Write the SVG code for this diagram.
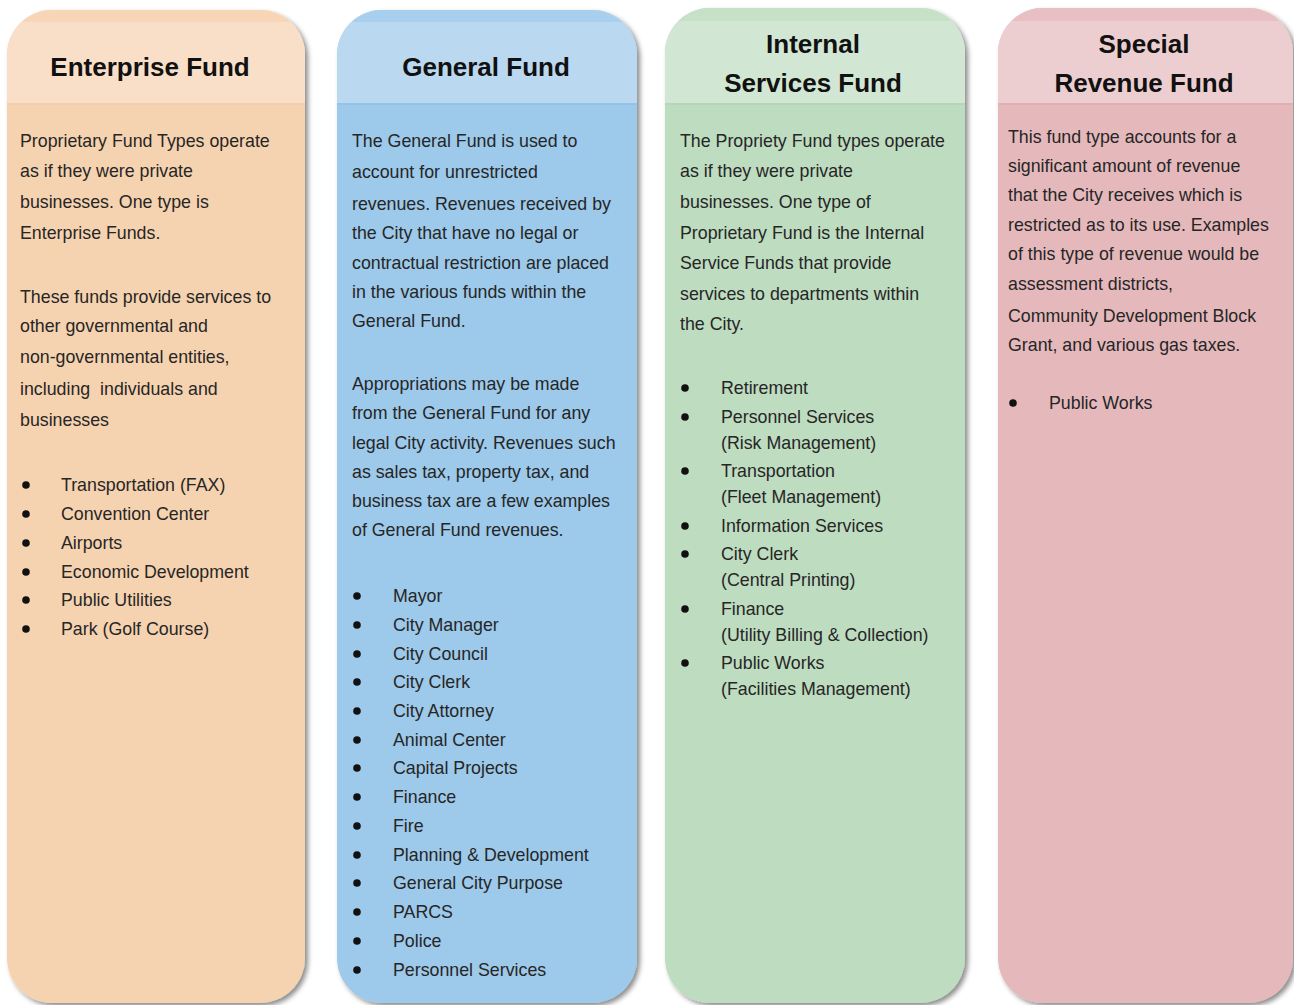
<svg xmlns="http://www.w3.org/2000/svg" xmlns:xlink="http://www.w3.org/1999/xlink" width="1294" height="1005" viewBox="0 0 1294 1005">
<style>
.t{font-family:"Liberation Sans",Arial,sans-serif;font-size:17.8px;fill:#262626}
.h{font-family:"Liberation Sans",Arial,sans-serif;font-size:26px;font-weight:bold;fill:#111;text-anchor:middle}
.b{fill:#111}
</style>
<defs>
<filter id="sh" x="-5%" y="-5%" width="115%" height="115%">
<feDropShadow dx="3" dy="3" stdDeviation="2.5" flood-color="#000" flood-opacity="0.45"/>
</filter>
<clipPath id="c1"><rect x="7" y="10" width="298" height="993" rx="45"/></clipPath>
<clipPath id="c2"><rect x="337" y="10" width="300" height="993" rx="45"/></clipPath>
<clipPath id="c3"><rect x="665" y="8" width="300" height="995" rx="45"/></clipPath>
<clipPath id="c4"><rect x="998" y="8" width="295" height="995" rx="45"/></clipPath>
</defs>
<rect width="1294" height="1005" fill="#fff"/>

<g id="enterprise-fund">
<rect x="7" y="10" width="298" height="993" rx="45" fill="#F6D3B0" filter="url(#sh)"/>
<g clip-path="url(#c1)">
<rect x="7" y="10" width="298" height="94" fill="#F9DFC8"/>
<rect x="7" y="10" width="298" height="12" fill="#F7D6B8"/>
<rect x="7" y="103" width="298" height="2" fill="#F1CDAB"/>
</g>
<text class="h" x="150" y="76">Enterprise Fund</text>
<text class="t" x="20" y="147">Proprietary Fund Types operate</text>
<text class="t" x="20" y="177">as if they were private</text>
<text class="t" x="20" y="208">businesses. One type is</text>
<text class="t" x="20" y="239">Enterprise Funds.</text>
<text class="t" x="20" y="303">These funds provide services to</text>
<text class="t" x="20" y="332">other governmental and</text>
<text class="t" x="20" y="363">non-governmental entities,</text>
<text class="t" x="20" y="395" xml:space="preserve">including  individuals and</text>
<text class="t" x="20" y="426">businesses</text>
<g class="b">
<circle cx="26" cy="485" r="3.8"/><circle cx="26" cy="514" r="3.8"/><circle cx="26" cy="543" r="3.8"/>
<circle cx="26" cy="572" r="3.8"/><circle cx="26" cy="600" r="3.8"/><circle cx="26" cy="629" r="3.8"/>
</g>
<text class="t" x="61" y="491">Transportation (FAX)</text>
<text class="t" x="61" y="520">Convention Center</text>
<text class="t" x="61" y="549">Airports</text>
<text class="t" x="61" y="578">Economic Development</text>
<text class="t" x="61" y="606">Public Utilities</text>
<text class="t" x="61" y="635">Park (Golf Course)</text>
</g>

<g id="general-fund">
<rect x="337" y="10" width="300" height="993" rx="45" fill="#9DC9EA" filter="url(#sh)"/>
<g clip-path="url(#c2)">
<rect x="337" y="10" width="300" height="94" fill="#BAD8F0"/>
<rect x="337" y="10" width="300" height="12" fill="#A8D0EE"/>
<rect x="337" y="103" width="300" height="2" fill="#93C3E6"/>
</g>
<text class="h" x="486" y="76">General Fund</text>
<text class="t" x="352" y="147">The General Fund is used to</text>
<text class="t" x="352" y="178">account for unrestricted</text>
<text class="t" x="352" y="210">revenues. Revenues received by</text>
<text class="t" x="352" y="239">the City that have no legal or</text>
<text class="t" x="352" y="269">contractual restriction are placed</text>
<text class="t" x="352" y="298">in the various funds within the</text>
<text class="t" x="352" y="327">General Fund.</text>
<text class="t" x="352" y="390">Appropriations may be made</text>
<text class="t" x="352" y="419">from the General Fund for any</text>
<text class="t" x="352" y="449">legal City activity. Revenues such</text>
<text class="t" x="352" y="478">as sales tax, property tax, and</text>
<text class="t" x="352" y="507">business tax are a few examples</text>
<text class="t" x="352" y="536">of General Fund revenues.</text>
<g class="b">
<circle cx="357" cy="596" r="3.8"/><circle cx="357" cy="625" r="3.8"/><circle cx="357" cy="654" r="3.8"/>
<circle cx="357" cy="682" r="3.8"/><circle cx="357" cy="711" r="3.8"/><circle cx="357" cy="740" r="3.8"/>
<circle cx="357" cy="768" r="3.8"/><circle cx="357" cy="797" r="3.8"/><circle cx="357" cy="826" r="3.8"/>
<circle cx="357" cy="855" r="3.8"/><circle cx="357" cy="883" r="3.8"/><circle cx="357" cy="912" r="3.8"/>
<circle cx="357" cy="941" r="3.8"/><circle cx="357" cy="970" r="3.8"/>
</g>
<text class="t" x="393" y="602">Mayor</text>
<text class="t" x="393" y="631">City Manager</text>
<text class="t" x="393" y="660">City Council</text>
<text class="t" x="393" y="688">City Clerk</text>
<text class="t" x="393" y="717">City Attorney</text>
<text class="t" x="393" y="746">Animal Center</text>
<text class="t" x="393" y="774">Capital Projects</text>
<text class="t" x="393" y="803">Finance</text>
<text class="t" x="393" y="832">Fire</text>
<text class="t" x="393" y="861">Planning &amp; Development</text>
<text class="t" x="393" y="889">General City Purpose</text>
<text class="t" x="393" y="918">PARCS</text>
<text class="t" x="393" y="947">Police</text>
<text class="t" x="393" y="976">Personnel Services</text>
</g>

<g id="internal-services-fund">
<rect x="665" y="8" width="300" height="995" rx="45" fill="#BEDCC0" filter="url(#sh)"/>
<g clip-path="url(#c3)">
<rect x="665" y="8" width="300" height="96" fill="#D2E7D3"/>
<rect x="665" y="8" width="300" height="13" fill="#C6E1C8"/>
<rect x="665" y="103" width="300" height="2" fill="#B6D6B8"/>
</g>
<text class="h" x="813" y="53">Internal</text>
<text class="h" x="813" y="92">Services Fund</text>
<text class="t" x="680" y="147">The Propriety Fund types operate</text>
<text class="t" x="680" y="177">as if they were private</text>
<text class="t" x="680" y="208">businesses. One type of</text>
<text class="t" x="680" y="239">Proprietary Fund is the Internal</text>
<text class="t" x="680" y="269">Service Funds that provide</text>
<text class="t" x="680" y="300">services to departments within</text>
<text class="t" x="680" y="330">the City.</text>
<g class="b">
<circle cx="685" cy="388" r="3.8"/><circle cx="685" cy="417" r="3.8"/><circle cx="685" cy="471" r="3.8"/>
<circle cx="685" cy="526" r="3.8"/><circle cx="685" cy="554" r="3.8"/><circle cx="685" cy="609" r="3.8"/>
<circle cx="685" cy="663" r="3.8"/>
</g>
<text class="t" x="721" y="394">Retirement</text>
<text class="t" x="721" y="423">Personnel Services</text>
<text class="t" x="721" y="449">(Risk Management)</text>
<text class="t" x="721" y="477">Transportation</text>
<text class="t" x="721" y="503">(Fleet Management)</text>
<text class="t" x="721" y="532">Information Services</text>
<text class="t" x="721" y="560">City Clerk</text>
<text class="t" x="721" y="586">(Central Printing)</text>
<text class="t" x="721" y="615">Finance</text>
<text class="t" x="721" y="641">(Utility Billing &amp; Collection)</text>
<text class="t" x="721" y="669">Public Works</text>
<text class="t" x="721" y="695">(Facilities Management)</text>
</g>

<g id="special-revenue-fund">
<rect x="998" y="8" width="295" height="995" rx="45" fill="#E5B9BC" filter="url(#sh)"/>
<g clip-path="url(#c4)">
<rect x="998" y="8" width="295" height="96" fill="#EDCED0"/>
<rect x="998" y="8" width="295" height="13" fill="#E8C0C3"/>
<rect x="998" y="103" width="295" height="2" fill="#DEB0B3"/>
</g>
<text class="h" x="1144" y="53">Special</text>
<text class="h" x="1144" y="92">Revenue Fund</text>
<text class="t" x="1008" y="143">This fund type accounts for a</text>
<text class="t" x="1008" y="172">significant amount of revenue</text>
<text class="t" x="1008" y="201">that the City receives which is</text>
<text class="t" x="1008" y="231">restricted as to its use. Examples</text>
<text class="t" x="1008" y="260">of this type of revenue would be</text>
<text class="t" x="1008" y="290">assessment districts,</text>
<text class="t" x="1008" y="322">Community Development Block</text>
<text class="t" x="1008" y="351">Grant, and various gas taxes.</text>
<circle class="b" cx="1013" cy="403" r="3.8"/>
<text class="t" x="1049" y="409">Public Works</text>
</g>

<g id="connectors"/>
</svg>
